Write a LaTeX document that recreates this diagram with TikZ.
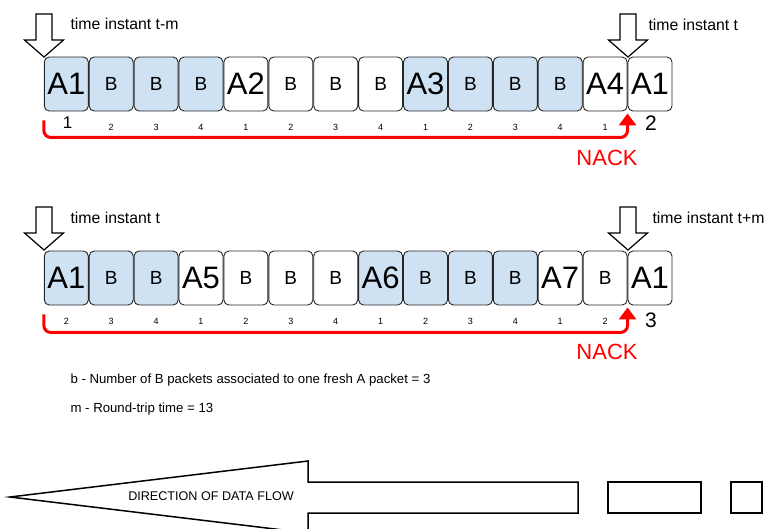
\documentclass[tikz,border=0pt]{standalone}
\usepackage{fontspec}
\setmainfont{Liberation Sans}
\usetikzlibrary{arrows.meta}
\definecolor{pktblue}{RGB}{207,226,243}
\definecolor{nackred}{RGB}{255,0,0}

% hollow arrow pointing down at a time instant (tip x, tip y)
\newcommand{\instantarrow}[2]{%
  \draw[line width=1.2pt, fill=white] (#1,#2) -- ++(-19.5,-17) -- ++(11.5,0)
    -- ++(0,-26) -- ++(16,0) -- ++(0,26) -- ++(11.5,0) -- cycle;}

\tikzset{
  pkt/.style={draw=black!85, line width=0.9pt, rounded corners=5pt,
    minimum width=44pt, minimum height=54pt, inner sep=0pt},
  fresh/.style={pkt, font=\fontsize{31}{31}\selectfont},
  coded/.style={pkt, font=\fontsize{19}{19}\selectfont},
  idx/.style={font=\fontsize{9}{9}\selectfont},
  slot/.style={font=\fontsize{21}{21}\selectfont},
  instant/.style={anchor=west, font=\fontsize{15.8}{16}\selectfont},
  nack/.style={draw=nackred, line width=3pt, rounded corners=7pt,
    -{Triangle[width=17pt,length=12pt]}},
  nacklbl/.style={text=nackred, font=\fontsize{22}{22}\selectfont},
  legend/.style={anchor=west, font=\fontsize{13.2}{14}\selectfont},
}

\begin{document}
\begin{tikzpicture}[x=1pt, y=-1pt]
  \useasboundingbox (0,0) rectangle (768,528);
  \clip (0,0) rectangle (768,528);

  % first window: t-m .. t
  \foreach \lbl/\sty/\col [count=\i] in {A1/fresh/pktblue, B/coded/pktblue,
      B/coded/pktblue, B/coded/pktblue, A2/fresh/white, B/coded/white,
      B/coded/white, B/coded/white, A3/fresh/pktblue, B/coded/pktblue,
      B/coded/pktblue, B/coded/pktblue, A4/fresh/white, A1/fresh/white}
    \node[\sty, fill=\col] (u\i) at ({66.3+(\i-1)*44.9}, 84) {\lbl};
  \foreach \n [count=\i from 2] in {2,3,4,1,2,3,4,1,2,3,4,1}
    \node[idx] (nu\i) at ({66.3+(\i-1)*44.9}, 127) {\n};
  \node[font=\fontsize{17}{17}\selectfont] (nu1) at (67.5, 123) {1};
  \node[slot] (su) at (651, 123) {2};

  \draw[nack] ([yshift=-9pt]u1.south west) |- ([yshift=-26pt]u14.south west)
    -- ([yshift=-2pt]u14.south west);
  \node[nacklbl] (nacku) at (607, 158) {NACK};

  \instantarrow{44}{57}
  \instantarrow{628}{57}
  \node[instant] (tu1) at (67, 24) {time instant t-m};
  \node[instant] (tu2) at (645, 25) {time instant t};

  % second window: t .. t+m
  \foreach \lbl/\sty/\col [count=\i] in {A1/fresh/pktblue, B/coded/pktblue,
      B/coded/pktblue, A5/fresh/white, B/coded/white, B/coded/white,
      B/coded/white, A6/fresh/pktblue, B/coded/pktblue, B/coded/pktblue,
      B/coded/pktblue, A7/fresh/white, B/coded/white, A1/fresh/white}
    \node[\sty, fill=\col] (v\i) at ({66.3+(\i-1)*44.9}, 278) {\lbl};
  \foreach \n [count=\i] in {2,3,4,1,2,3,4,1,2,3,4,1,2}
    \node[idx] (nv\i) at ({66.3+(\i-1)*44.9}, 321) {\n};
  \node[slot] (sv) at (651, 320) {3};

  \draw[nack] ([yshift=-9pt]v1.south west) |- ([yshift=-27pt]v14.south west)
    -- ([yshift=-2pt]v14.south west);
  \node[nacklbl] (nackv) at (607, 352) {NACK};

  \instantarrow{44}{250}
  \instantarrow{628}{250}
  \node[instant] (tv1) at (67, 218) {time instant t};
  \node[instant] (tv2) at (649, 218) {time instant t+m};

  % parameters
  \node[legend] (bdef) at (67, 380) {b - Number of B packets associated to one fresh A packet = 3};
  \node[legend] (mdef) at (67, 409) {m - Round-trip time = 13};

  % data flow arrow and trailing packets
  \draw[line width=1.5pt] (10,497) -- (308,461) -- (308,482) -- (578,482)
    -- (578,513) -- (308,513) -- (308,533) -- cycle;
  \node[font=\fontsize{12.6}{13}\selectfont] (flow) at (211, 496) {DIRECTION OF DATA FLOW};
  \draw[line width=1.5pt] (608,482) rectangle (701,513);
  \draw[line width=1.5pt] (731,482) rectangle (762,513);
\end{tikzpicture}
\end{document}
